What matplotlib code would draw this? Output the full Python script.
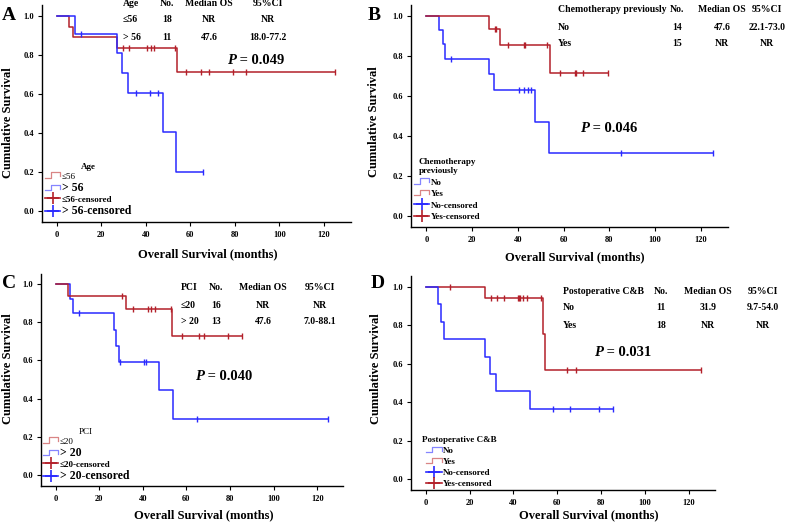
"""Four Kaplan-Meier overall-survival panels (Age, prior chemo, PCI, postop C&B)."""

import numpy as np
import matplotlib

matplotlib.use("Agg")
import matplotlib.pyplot as plt  # noqa: E402
from matplotlib.lines import Line2D  # noqa: E402
from matplotlib.legend_handler import HandlerBase  # noqa: E402
from matplotlib.ticker import FormatStrFormatter  # noqa: E402

W, H = 787, 522
RED = "#b3202a"
BLUE = "#2a2aff"
RED_LIGHT = "#d98585"
BLUE_LIGHT = "#8585ff"

plt.rcParams["font.family"] = ["Liberation Serif", "DejaVu Serif"]
plt.rcParams["font.weight"] = "bold"
plt.rcParams["axes.labelweight"] = "bold"

# ---- Panel A: Age ----------------------------------------------------------
a_le56_t = [0, 5.7, 7.2, 27.0, 54.0, 125.0]
a_le56_s = [1.0, 0.944, 0.889, 0.833, 0.714, 0.714]
a_le56_cens = [30.0, 32.6, 40.5, 42.5, 43.8, 53.0, 58.0, 64.6, 68.2, 79.1, 84.8, 125.0]
a_gt56_t = [0, 8.2, 27.0, 29.2, 32.2, 47.9, 53.6, 65.8]
a_gt56_s = [1.0, 0.909, 0.808, 0.707, 0.606, 0.404, 0.202, 0.202]
a_gt56_cens = [10.8, 35.6, 41.9, 45.6, 65.8]
a_header = ["Age", "No.", "Median OS", "95%CI"]
a_rows = [["≤56", "18", "NR", "NR"], ["> 56", "11", "47.6", "18.0-77.2"]]
a_p = "0.049"

# ---- Panel B: Chemotherapy previously --------------------------------------
b_no_t = [0, 5.6, 7.2, 8.2, 27.2, 29.4, 47.7, 53.5, 125.2]
b_no_s = [1.0, 0.929, 0.857, 0.786, 0.707, 0.629, 0.471, 0.314, 0.314]
b_no_cens = [10.8, 40.7, 42.5, 44.3, 45.8, 85.0, 125.2]
b_yes_t = [0, 27.2, 32.3, 54.0, 79.5]
b_yes_s = [1.0, 0.933, 0.855, 0.713, 0.713]
b_yes_cens = [30.1, 30.4, 35.5, 42.5, 43.2, 52.8, 58.3, 64.8, 65.6, 68.4, 79.5]
b_header = ["Chemotherapy previously", "No.", "Median OS", "95%CI"]
b_rows = [["No", "14", "47.6", "22.1-73.0"], ["Yes", "15", "NR", "NR"]]
b_p = "0.046"

# ---- Panel C: PCI ----------------------------------------------------------
c_le20_t = [0, 5.8, 32.2, 53.5, 85.3]
c_le20_s = [1.0, 0.9375, 0.871, 0.726, 0.726]
c_le20_cens = [30.3, 35.6, 42.5, 43.6, 45.6, 52.8, 57.8, 65.7, 68.0, 79.2, 85.3]
c_gt20_t = [0, 6.6, 8.1, 26.9, 27.5, 29.0, 47.5, 54.0, 125.0]
c_gt20_s = [1.0, 0.923, 0.846, 0.761, 0.677, 0.592, 0.444, 0.296, 0.296]
c_gt20_cens = [10.7, 29.5, 40.5, 41.7, 64.7, 125.0]
c_header = ["PCI", "No.", "Median OS", "95%CI"]
c_rows = [["≤20", "16", "NR", "NR"], ["> 20", "13", "47.6", "7.0-88.1"]]
c_p = "0.040"

# ---- Panel D: Postoperative C&B --------------------------------------------
d_no_t = [0, 5.6, 7.2, 8.4, 27.2, 29.5, 32.0, 47.8, 85.5]
d_no_s = [1.0, 0.909, 0.818, 0.727, 0.636, 0.545, 0.455, 0.364, 0.364]
d_no_cens = [58.1, 65.8, 79.1, 85.5]
d_yes_t = [0, 26.9, 53.6, 54.3, 125.6]
d_yes_s = [1.0, 0.941, 0.753, 0.565, 0.565]
d_yes_cens = [11.0, 30.0, 32.7, 35.8, 41.9, 42.5, 42.9, 44.4, 46.0, 52.8, 64.7, 68.4, 125.6]
d_header = ["Postoperative C&B", "No.", "Median OS", "95%CI"]
d_rows = [["No", "11", "31.9", "9.7-54.0"], ["Yes", "18", "NR", "NR"]]
d_p = "0.031"


def fx(px):
    return px / W


def fy(py):
    return 1 - py / H


class StepIcon(HandlerBase):
    """Legend glyph shaped like a little survival step."""

    def create_artists(self, legend, orig_handle, xdescent, ydescent,
                       width, height, fontsize, trans):
        x0, y0 = -xdescent, -ydescent
        xs = [x0, x0 + 0.4 * width, x0 + 0.4 * width, x0 + width, x0 + width]
        ys = [y0 + 0.1 * height, y0 + 0.1 * height, y0 + 1.0 * height,
              y0 + 1.0 * height, y0 + 0.35 * height]
        ln = Line2D(xs, ys, color=orig_handle.get_color(), lw=0.9)
        ln.set_transform(trans)
        return [ln]


def draw_curve(ax, t, s, cens, color):
    ax.step(t, s, where="post", color=color, lw=1.1)
    idx = np.searchsorted(t, cens, side="right") - 1
    ax.plot(cens, np.asarray(s)[idx], ls="none", marker="|", ms=4.5,
            mew=1.0, color=color)


def make_axes(fig, box, ylab_xy, xlab_xy):
    left, right, top, bottom = box
    ax = fig.add_axes([fx(left), fy(bottom), (right - left) / W, (bottom - top) / H])
    ax.set_xlim(-6.7, 132)
    ax.set_ylim(-0.057, 1.055)
    ax.set_xticks(range(0, 121, 20))
    ax.set_yticks(np.linspace(0, 1, 6))
    ax.yaxis.set_major_formatter(FormatStrFormatter("%.1f"))
    for side in ("top", "right"):
        ax.spines[side].set_visible(False)
    for side in ("left", "bottom"):
        ax.spines[side].set_linewidth(1.0)
    ax.tick_params(axis="x", length=3, width=0.8, labelsize=6, pad=3.5)
    ax.tick_params(axis="y", length=3, width=0.8, labelsize=6, pad=2.5)
    ax.set_xlabel("Overall Survival (months)", fontsize=9)
    ax.xaxis.set_label_coords(*xlab_xy)
    ax.set_ylabel("Cumulative Survival", fontsize=9)
    ax.yaxis.set_label_coords(*ylab_xy)
    return ax


def table(fig, header, rows, first_x, col_x, row_y):
    for r, line in enumerate([header] + rows):
        y = row_y[r]
        fig.text(fx(first_x), fy(y), line[0], ha="left", va="center", fontsize=7)
        for cx, val in zip(col_x, line[1:]):
            fig.text(fx(cx), fy(y), val, ha="center", va="center", fontsize=7)


def p_value(ax, fig, x, y, val):
    p = fig.text(fx(x), fy(y), "P", style="italic", fontsize=10.5,
                 ha="left", va="center")
    ax.annotate(f" = {val}", xy=(1, 0), xycoords=p, ha="left", va="bottom",
                fontsize=10.5, annotation_clip=False)


def legend(ax, fig, title, entries, anchor, sizes, weights,
           title_weight="bold", spacing=0.05):
    handles, labels, hmap = [], [], {}
    for label, color, kind in entries:
        if kind == "step":
            h = Line2D([], [], color=color)
            hmap[h] = StepIcon()
        else:
            h = Line2D([], [], color=color, lw=1.2, marker="+", ms=8, mew=1.2)
        handles.append(h)
        labels.append(label)
    leg = ax.legend(handles, labels, title=title, loc="lower left",
                    bbox_to_anchor=(fx(anchor[0]), fy(anchor[1])),
                    bbox_transform=fig.transFigure, frameon=False,
                    fontsize=6.5, title_fontsize=6.5, handlelength=1.7,
                    handletextpad=0.15, labelspacing=spacing, borderpad=0,
                    borderaxespad=0, handler_map=hmap)
    leg.get_title().set_fontweight(title_weight)
    for txt, size, weight in zip(leg.get_texts(), sizes, weights):
        txt.set_fontsize(size)
        txt.set_fontweight(weight)


fig = plt.figure(figsize=(W / 100, H / 100), dpi=100)

# A
ax = make_axes(fig, (41.7, 350.7, 5, 222.3), (-0.09, 0.46), (0.537, -0.118))
draw_curve(ax, a_le56_t, a_le56_s, a_le56_cens, RED)
draw_curve(ax, a_gt56_t, a_gt56_s, a_gt56_cens, BLUE)
table(fig, a_header, a_rows, 123, [167, 209, 268], [4, 20, 37])
p_value(ax, fig, 226.7, 60, a_p)
legend(ax, fig, "Age",
       [("≤56", RED_LIGHT, "step"), ("> 56", BLUE_LIGHT, "step"),
        ("≤56-censored", RED, "cens"), ("> 56-censored", BLUE, "cens")],
       (45, 217), [6.5, 8.5, 6.5, 8.5], ["normal", "bold", "bold", "bold"],
       spacing=0.15)

# B
ax = make_axes(fig, (411, 728.3, 4.7, 227.3), (-0.098, 0.473), (0.517, -0.106))
draw_curve(ax, b_no_t, b_no_s, b_no_cens, BLUE)
draw_curve(ax, b_yes_t, b_yes_s, b_yes_cens, RED)
table(fig, b_header, b_rows, 558, [677, 722, 767], [10, 27, 43])
p_value(ax, fig, 580, 128, b_p)
legend(ax, fig, "Chemotherapy\npreviously",
       [("No", BLUE_LIGHT, "step"), ("Yes", RED_LIGHT, "step"),
        ("No-censored", BLUE, "cens"), ("Yes-censored", RED, "cens")],
       (414, 221), [6.5] * 4, ["bold"] * 4, spacing=0.35)

# C
ax = make_axes(fig, (41, 343.3, 273.5, 486), (-0.089, 0.553), (0.539, -0.108))
draw_curve(ax, c_gt20_t, c_gt20_s, c_gt20_cens, BLUE)
draw_curve(ax, c_le20_t, c_le20_s, c_le20_cens, RED)
table(fig, c_header, c_rows, 181, [216, 263, 320], [288, 305, 322])
p_value(ax, fig, 195, 377, c_p)
legend(ax, fig, "PCI",
       [("≤20", RED_LIGHT, "step"), ("> 20", BLUE_LIGHT, "step"),
        ("≤20-censored", RED, "cens"), ("> 20-censored", BLUE, "cens")],
       (43, 482), [6.5, 8.5, 6.5, 8.5], ["normal", "bold", "bold", "bold"],
       title_weight="normal", spacing=0.15)

# D
ax = make_axes(fig, (411, 715, 276, 490), (-0.095, 0.568), (0.586, -0.089))
draw_curve(ax, d_yes_t, d_yes_s, d_yes_cens, RED)
draw_curve(ax, d_no_t, d_no_s, d_no_cens, BLUE)
table(fig, d_header, d_rows, 563, [661, 708, 763], [291, 308, 325])
p_value(ax, fig, 594.3, 352, d_p)
legend(ax, fig, "Postoperative C&B",
       [("No", BLUE_LIGHT, "step"), ("Yes", RED_LIGHT, "step"),
        ("No-censored", BLUE, "cens"), ("Yes-censored", RED, "cens")],
       (422, 488), [6.5] * 4, ["bold"] * 4, spacing=0.3)

# panel letters
for letter, (x, y) in zip("ABCD", [(9, 15), (374, 15), (9, 284), (377.5, 284)]):
    fig.text(fx(x), fy(y), letter, ha="center", va="center", fontsize=14)

fig.savefig("out.png", dpi=100)
